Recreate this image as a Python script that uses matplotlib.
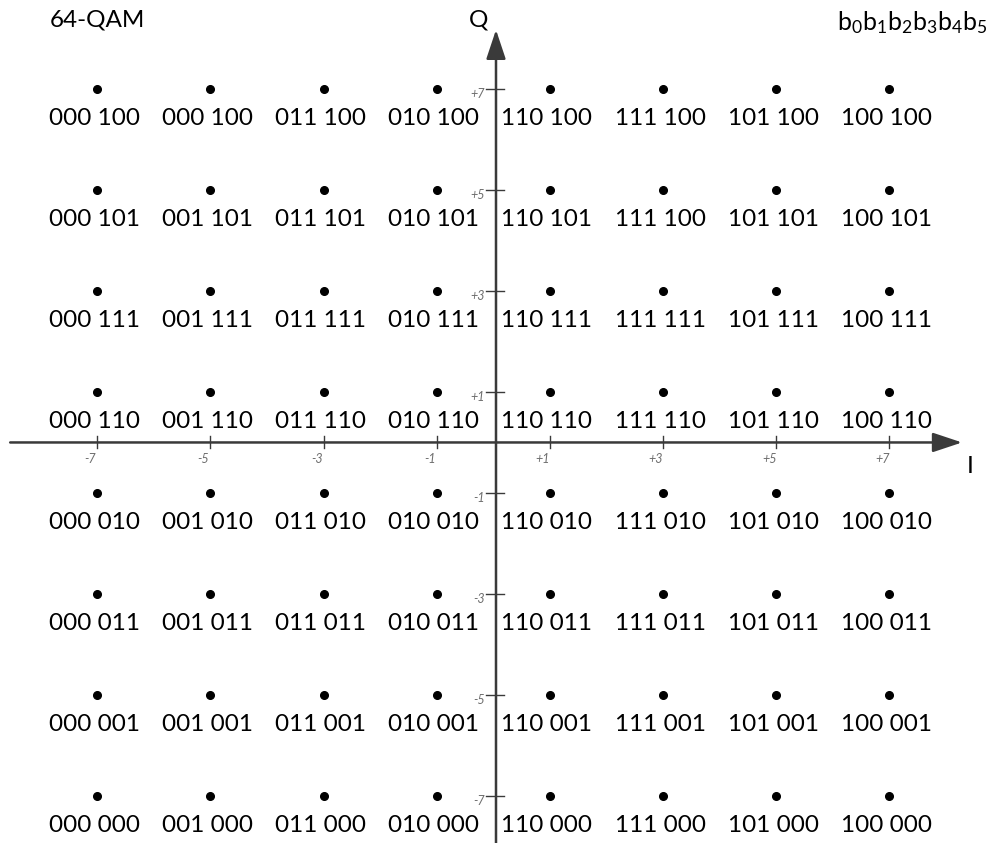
import numpy as np
import matplotlib.pyplot as plt

plt.rcParams['font.family'] = ['Lato', 'DejaVu Sans']
plt.rcParams['mathtext.fontset'] = 'custom'
plt.rcParams['mathtext.rm'] = 'Lato'

# =========================
# Data
# =========================
i_levels = [-7, -5, -3, -1, 1, 3, 5, 7]
q_levels = [7, 5, 3, 1, -1, -3, -5, -7]

i_tick_labels = ["-7", "-5", "-3", "-1", "+1", "+3", "+5", "+7"]
q_tick_labels = ["+7", "+5", "+3", "+1", "-1", "-3", "-5", "-7"]

# bit labels, one row per Q level (top to bottom), as printed
bit_labels = [
    ["000 100", "000 100", "011 100", "010 100", "110 100", "111 100", "101 100", "100 100"],
    ["000 101", "001 101", "011 101", "010 101", "110 101", "111 100", "101 101", "100 101"],
    ["000 111", "001 111", "011 111", "010 111", "110 111", "111 111", "101 111", "100 111"],
    ["000 110", "001 110", "011 110", "010 110", "110 110", "111 110", "101 110", "100 110"],
    ["000 010", "001 010", "011 010", "010 010", "110 010", "111 010", "101 010", "100 010"],
    ["000 011", "001 011", "011 011", "010 011", "110 011", "111 011", "101 011", "100 011"],
    ["000 001", "001 001", "011 001", "010 001", "110 001", "111 001", "101 001", "100 001"],
    ["000 000", "001 000", "011 000", "010 000", "110 000", "111 000", "101 000", "100 000"],
]

# =========================
# Figure
# =========================
fig = plt.figure(figsize=(9.92, 8.43), dpi=100)
ax = fig.add_axes([0, 0, 1, 1])
ax.set_xlim(-8.72, 8.82)
ax.set_ylim(-7.93, 8.76)
ax.axis('off')

axis_col = '#3a3a3a'
tick_col = '#6e6e6e'

# axes with arrows
ax.annotate('', xy=(8.29, 0), xytext=(-8.54, 0),
            arrowprops=dict(arrowstyle='-|>,head_length=0.9,head_width=0.3',
                            lw=1.8, color=axis_col, mutation_scale=20,
                            shrinkA=0, shrinkB=0))
ax.annotate('', xy=(0.05, 8.17), xytext=(0.05, -7.93),
            arrowprops=dict(arrowstyle='-|>,head_length=0.9,head_width=0.3',
                            lw=1.8, color=axis_col, mutation_scale=20,
                            shrinkA=0, shrinkB=0))

# tick marks and small tick labels
for xv, lab in zip(i_levels, i_tick_labels):
    ax.plot([xv, xv], [-0.1, 0.12], color=axis_col, lw=1.0)
    ax.text(xv - 0.12, -0.32, lab, fontsize=9, color=tick_col,
            ha='center', va='center', style='italic')
for yv, lab in zip(q_levels, q_tick_labels):
    ax.plot([-0.12, 0.2], [yv, yv], color=axis_col, lw=1.0)
    ax.text(-0.14, yv - 0.1, lab, fontsize=9, color=tick_col,
            ha='right', va='center', style='italic')

# constellation points and labels
for r, yv in enumerate(q_levels):
    for c, xv in enumerate(i_levels):
        ax.plot(xv, yv, 'o', color='black', markersize=5.5)
        ax.text(xv - 0.05, yv - 0.58, bit_labels[r][c], fontsize=17.5,
                ha='center', va='center', color='black')

# titles
fig.text(0.050, 0.976, "64-QAM", fontsize=17.5, ha='left', va='center')
fig.text(0.482, 0.976, "Q", fontsize=17.5, ha='center', va='center')
fig.text(0.978, 0.447, "I", fontsize=17.5, ha='center', va='center')
fig.text(0.995, 0.973, r"$\mathregular{b_0b_1b_2b_3b_4b_5}$", fontsize=18,
         ha='right', va='center')

fig.savefig('out.png', dpi=100)
